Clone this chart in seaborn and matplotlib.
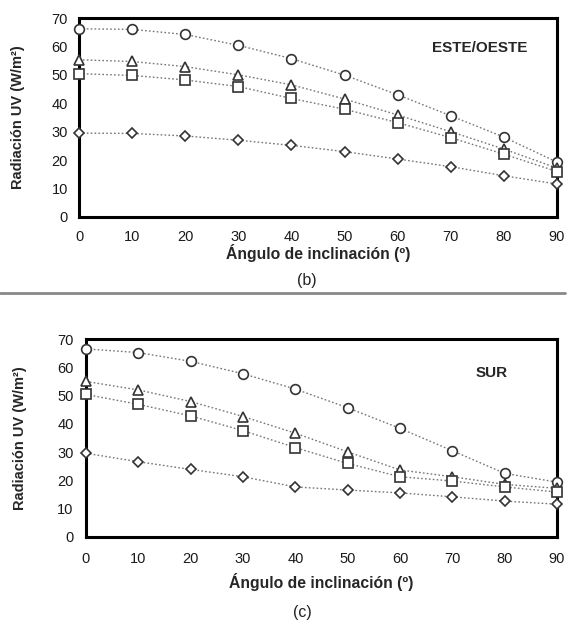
import numpy as np
import pandas as pd
import matplotlib
matplotlib.use("Agg")
import matplotlib.pyplot as plt
import seaborn as sns

sns.set_style("white")
plt.rcParams['font.family'] = ['Liberation Sans', 'DejaVu Sans']

angles = [0, 10, 20, 30, 40, 50, 60, 70, 80, 90]
series_names = ["circulo", "triangulo", "cuadrado", "rombo"]

este_circle = [66.2, 66.0, 64.2, 60.4, 55.7, 49.9, 43.0, 35.6, 28.1, 19.3]
este_triangle = [55.3, 54.7, 52.9, 50.0, 46.5, 41.5, 35.9, 30.0, 23.9, 17.2]
este_square = [50.4, 49.8, 48.2, 45.9, 41.7, 37.9, 33.2, 27.9, 22.1, 16.0]
este_diamond = [29.5, 29.4, 28.5, 27.0, 25.2, 23.0, 20.4, 17.7, 14.5, 11.6]

sur_circle = [66.5, 65.2, 62.1, 57.7, 52.3, 45.7, 38.4, 30.5, 22.5, 19.4]
sur_triangle = [55.0, 52.0, 47.9, 42.6, 36.7, 30.1, 23.7, 21.3, 18.6, 17.2]
sur_square = [50.4, 46.9, 42.8, 37.6, 31.6, 26.0, 21.3, 19.8, 17.7, 15.9]
sur_diamond = [29.6, 26.6, 23.9, 21.3, 17.7, 16.6, 15.6, 14.2, 12.7, 11.6]

x_ticks = [0, 10, 20, 30, 40, 50, 60, 70, 80, 90]
y_ticks = [0, 10, 20, 30, 40, 50, 60, 70]
xlabel = "Ángulo de inclinación (º)"
ylabel = "Radiación UV (W/m²)"


def make_df(vals):
    rows = []
    for name, v in zip(series_names, vals):
        for a, y in zip(angles, v):
            rows.append({"angle": a, "value": y, "serie": name})
    return pd.DataFrame(rows)


markers = {"circulo": "o", "triangulo": "^", "cuadrado": "s", "rombo": "D"}
msizes = {"circulo": 7.0, "triangulo": 7.0, "cuadrado": 7.0, "rombo": 5.2}


def draw(ax, df, title, title_xy, ylab_x, xlab_y, ypad, xpad):
    for name in series_names:
        sub = df[df.serie == name]
        sns.lineplot(data=sub, x="angle", y="value", ax=ax, color="#777777",
                     linestyle=(0, (1.2, 1.6)), linewidth=1.0,
                     marker=markers[name], markersize=msizes[name],
                     markerfacecolor="white", markeredgecolor="#333333",
                     markeredgewidth=1.2, clip_on=False, legend=False,
                     errorbar=None, zorder=3)
    ax.set_xlim(0, 90)
    ax.set_ylim(0, 70)
    ax.set_xticks(x_ticks)
    ax.set_yticks(y_ticks)
    ax.tick_params(axis="y", labelsize=10.5, length=0, pad=ypad)
    ax.tick_params(axis="x", labelsize=10.5, length=0, pad=xpad)
    for lab in ax.get_xticklabels() + ax.get_yticklabels():
        lab.set_color("#1a1a1a")
    ax.set_xlabel(xlabel, fontsize=11.3, fontweight="bold", va="center")
    ax.set_ylabel(ylabel, fontsize=10.5, fontweight="bold", va="center")
    ax.yaxis.set_label_coords(ylab_x, 0.5)
    ax.xaxis.set_label_coords(0.5, xlab_y)
    for s in ax.spines.values():
        s.set_linewidth(2.2)
        s.set_color("black")
    ax.text(title_xy[0], title_xy[1], title, transform=ax.transAxes,
            fontsize=11, fontweight="bold", ha="center", va="center")


fig = plt.figure(figsize=(5.68, 6.24), dpi=100)
ax1 = fig.add_axes([79 / 568, 1 - 217 / 624, 478 / 568, 199 / 624])
ax2 = fig.add_axes([86 / 568, 1 - 537 / 624, 471 / 568, 198 / 624])

draw(ax1, make_df([este_circle, este_triangle, este_square, este_diamond]),
     "ESTE/OESTE", ((480 - 79) / 478, (217 - 48) / 199),
     (18 - 79) / 478, (217 - 253) / 199, 8, 9.5)
draw(ax2, make_df([sur_circle, sur_triangle, sur_square, sur_diamond]),
     "SUR", ((492 - 86) / 471, (537 - 373) / 198),
     (20 - 86) / 471, (537 - 582) / 198, 9, 10.5)

fig.text(307 / 568, 1 - 281 / 624, "(b)", fontsize=11.5, ha="center", va="center", color="#222222")
fig.text(302 / 568, 1 - 613 / 624, "(c)", fontsize=11.5, ha="center", va="center", color="#222222")
fig.add_artist(plt.Line2D([0, 0.995], [1 - 293 / 624, 1 - 293 / 624],
                          transform=fig.transFigure, color="#888888", linewidth=2))

fig.savefig("out.png", dpi=100)
